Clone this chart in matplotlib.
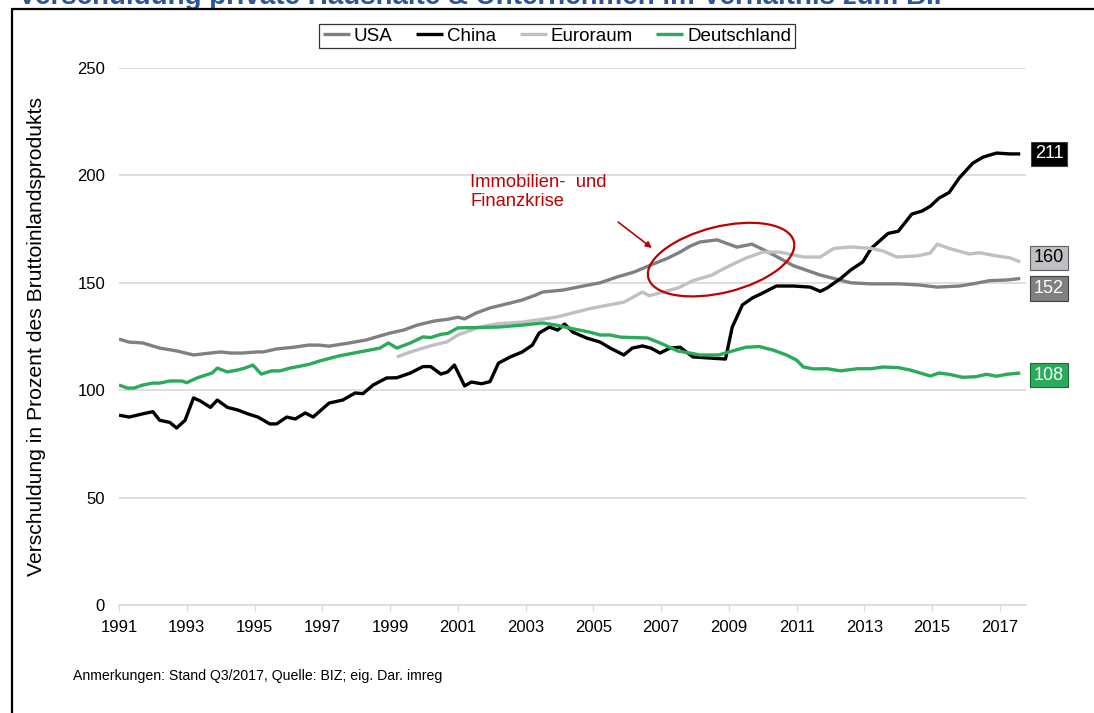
import matplotlib
matplotlib.use("Agg")
import matplotlib.pyplot as plt
from matplotlib.patches import Ellipse, Rectangle
from matplotlib.transforms import ScaledTranslation

plt.rcParams['font.family'] = ['Liberation Sans', 'DejaVu Sans']

# ---------------- data ----------------
usa_t = [1991.0, 1991.3, 1991.7, 1992.2, 1992.7, 1993.2, 1993.7, 1994.0, 1994.3, 1994.65,
         1995.05, 1995.25, 1995.65, 1996.15, 1996.6, 1996.9, 1997.2, 1997.8, 1998.3, 1998.6,
         1999.0, 1999.4, 1999.8, 2000.3, 2000.7, 2001.0, 2001.2, 2001.55, 2001.95, 2002.55,
         2002.9, 2003.3, 2003.5, 2004.1, 2004.7, 2005.2, 2005.7, 2006.2, 2006.7, 2007.2,
         2007.56, 2007.85, 2008.15, 2008.65, 2009.24, 2009.68, 2010.2, 2010.9, 2011.7, 2012.6,
         2013.2, 2014.0, 2014.6, 2015.15, 2015.8, 2016.2, 2016.7, 2017.2, 2017.6]
usa_v = [123.8, 122.4, 122.0, 119.6, 118.3, 116.4, 117.3, 117.8, 117.3, 117.3,
         117.8, 117.8, 119.2, 120.0, 121.0, 121.0, 120.5, 122.0, 123.4, 124.8,
         126.6, 128.0, 130.3, 132.2, 133.0, 134.0, 133.2, 136.0, 138.3, 140.6,
         142.0, 144.3, 145.7, 146.6, 148.5, 150.0, 152.7, 155.0, 158.3, 161.5,
         164.3, 167.0, 169.0, 170.0, 166.6, 168.0, 164.0, 158.0, 153.6, 150.0,
         149.5, 149.5, 149.0, 148.0, 148.5, 149.5, 151.0, 151.3, 152.0]

china_t = [1991.0, 1991.3, 1991.7, 1992.0, 1992.2, 1992.5, 1992.7, 1992.95, 1993.2, 1993.4,
           1993.7, 1993.9, 1994.2, 1994.5, 1994.8, 1995.1, 1995.45, 1995.65, 1995.95, 1996.2,
           1996.5, 1996.73, 1997.2, 1997.6, 1997.97, 1998.2, 1998.5, 1998.9, 1999.2, 1999.6,
           1999.97, 2000.2, 2000.5, 2000.7, 2000.9, 2001.2, 2001.4, 2001.7, 2001.95, 2002.2,
           2002.55, 2002.9, 2003.2, 2003.4, 2003.7, 2003.95, 2004.15, 2004.4, 2004.8, 2005.2,
           2005.5, 2005.9, 2006.15, 2006.45, 2006.7, 2006.97, 2007.26, 2007.56, 2007.94, 2008.4,
           2008.9, 2009.1, 2009.4, 2009.7, 2009.97, 2010.4, 2010.9, 2011.4, 2011.7, 2011.9,
           2012.3, 2012.6, 2012.95, 2013.2, 2013.7, 2014.0, 2014.4, 2014.7, 2014.95, 2015.2,
           2015.5, 2015.8, 2016.2, 2016.5, 2016.9, 2017.3, 2017.6]
china_v = [88.4, 87.5, 89.0, 90.0, 86.0, 85.0, 82.4, 86.0, 96.4, 95.0,
           92.0, 95.4, 92.0, 90.8, 89.0, 87.5, 84.3, 84.3, 87.5, 86.6,
           89.4, 87.5, 94.0, 95.4, 98.7, 98.4, 102.4, 105.7, 105.8, 108.0,
           111.0, 111.0, 107.5, 108.5, 111.7, 102.0, 103.8, 103.0, 104.0, 112.6,
           115.5, 117.8, 121.0, 126.6, 129.4, 128.0, 130.8, 127.0, 124.3, 122.4,
           119.6, 116.4, 119.6, 120.6, 119.6, 117.3, 119.6, 120.0, 115.5, 115.0,
           114.5, 129.4, 139.7, 143.0, 145.0, 148.5, 148.5, 148.0, 146.0, 147.6,
           152.0, 156.0, 159.7, 166.0, 173.0, 174.0, 182.0, 183.4, 185.7, 189.4,
           192.0, 198.8, 205.7, 208.5, 210.4, 210.0, 210.0]

euro_t = [1999.2, 1999.6, 2000.27, 2000.68, 2001.0, 2001.65, 2002.2, 2002.9, 2003.9, 2004.9,
          2005.9, 2006.45, 2006.65, 2007.5, 2007.94, 2008.5, 2008.9, 2009.5, 2010.0, 2010.5,
          2011.2, 2011.7, 2012.1, 2012.6, 2013.2, 2013.55, 2013.96, 2014.55, 2014.94, 2015.15,
          2015.5, 2016.1, 2016.4, 2016.9, 2017.3, 2017.6]
euro_v = [115.5, 117.8, 121.0, 122.5, 125.7, 129.4, 131.0, 131.7, 134.0, 138.0,
          141.0, 145.7, 144.0, 147.6, 151.0, 153.6, 157.0, 161.5, 164.3, 164.3,
          162.0, 162.0, 166.0, 166.7, 166.0, 164.8, 162.0, 162.5, 163.8, 168.0,
          166.0, 163.4, 164.0, 162.5, 161.6, 159.7]

de_t = [1991.0, 1991.25, 1991.45, 1991.7, 1992.0, 1992.2, 1992.5, 1992.85, 1993.0, 1993.3,
        1993.55, 1993.75, 1993.9, 1994.2, 1994.5, 1994.7, 1994.95, 1995.2, 1995.5, 1995.75,
        1996.05, 1996.35, 1996.6, 1996.9, 1997.5, 1998.1, 1998.7, 1998.95, 1999.2, 1999.6,
        1999.97, 2000.2, 2000.5, 2000.7, 2001.0, 2001.65, 2002.2, 2002.9, 2003.5, 2003.9,
        2004.3, 2004.9, 2005.2, 2005.5, 2005.8, 2006.6, 2006.97, 2007.5, 2007.85, 2008.15,
        2008.7, 2009.0, 2009.5, 2009.9, 2010.3, 2010.7, 2011.0, 2011.2, 2011.5, 2011.9,
        2012.3, 2012.8, 2013.2, 2013.55, 2014.0, 2014.35, 2014.65, 2014.95, 2015.2, 2015.5,
        2015.9, 2016.3, 2016.6, 2016.9, 2017.2, 2017.6]
de_v = [102.4, 101.0, 101.0, 102.4, 103.3, 103.3, 104.3, 104.3, 103.5, 105.7,
        107.0, 108.0, 110.3, 108.5, 109.4, 110.2, 111.7, 107.5, 109.0, 109.0,
        110.3, 111.2, 112.0, 113.5, 116.0, 117.8, 119.6, 122.0, 119.6, 122.0,
        124.8, 124.5, 126.0, 126.4, 129.0, 129.2, 129.4, 130.3, 131.3, 130.3,
        128.9, 127.0, 125.7, 125.7, 124.7, 124.3, 122.0, 118.2, 117.3, 116.4,
        116.4, 117.8, 120.0, 120.3, 118.7, 116.4, 114.0, 110.8, 109.9, 110.0,
        109.0, 110.0, 110.0, 110.8, 110.5, 109.4, 108.0, 106.6, 108.0, 107.4,
        106.0, 106.3, 107.4, 106.5, 107.4, 108.0]

series_names = ["USA", "China", "Euroraum", "Deutschland"]
end_labels = ["152", "211", "160", "108"]
x_ticks = list(range(1991, 2018, 2))
y_ticks = [0, 50, 100, 150, 200, 250]

title = "Verschuldung private Haushalte & Unternehmen im Verhältnis zum BIP"
ylabel = "Verschuldung in Prozent des Bruttoinlandsprodukts"
note = "Anmerkungen: Stand Q3/2017, Quelle: BIZ; eig. Dar. imreg"
crisis_text = "Immobilien-  und\nFinanzkrise"

# ---------------- style ----------------
colors = ["#808080", "#000000", "#bfc0c4", "#2aaa5a"]
label_text_colors = ["white", "white", "black", "white"]
label_edge = ["#404040", "#404040", "#606060", "#1a6a38"]
label_offsets_px = [-10, 0, 4, -2]
red = "#c00000"
grid_c = "#d9d9d9"

W, H = 1094, 713
fig = plt.figure(figsize=(W / 100, H / 100), dpi=100)
ax = fig.add_axes([119 / W, 1 - 605 / H, (1026 - 119) / W, (605 - 68) / H])

data = [(usa_t, usa_v), (china_t, china_v), (euro_t, euro_v), (de_t, de_v)]
order = [2, 0, 3, 1]
lines = {}
for i in order:
    t, v = data[i]
    ln, = ax.plot(t, v, color=colors[i], lw=2.4, solid_joinstyle='round',
                  solid_capstyle='butt', label=series_names[i], zorder=3 + i * 0.1)
    lines[i] = ln

ax.set_xlim(1991, 2017.77)
ax.set_ylim(0, 250)
ax.set_xticks(x_ticks)
ax.set_xticklabels([str(x) for x in x_ticks])
ax.set_yticks(y_ticks)
ax.tick_params(axis='y', length=0, pad=10, labelsize=12)
ax.tick_params(axis='x', length=4, width=1, color=grid_c, direction='out', pad=7, labelsize=12)
for s in ['top', 'right', 'left']:
    ax.spines[s].set_visible(False)
ax.spines['bottom'].set_color(grid_c)
ax.spines['bottom'].set_linewidth(1.2)
ax.grid(axis='y', color=grid_c, lw=1.2)
ax.set_axisbelow(True)
ax.set_ylabel(ylabel, fontsize=15.2)
ax.yaxis.set_label_coords(-0.080, 0.5)

# legend
handles = [lines[i] for i in range(4)]
leg = fig.legend(handles, series_names, loc='center', bbox_to_anchor=(557 / W, 1 - 36 / H),
                 ncol=4, fontsize=13.5, frameon=True, fancybox=False, handlelength=1.45,
                 handletextpad=0.2, columnspacing=1.25, borderpad=0.2, edgecolor='black')
leg.get_frame().set_linewidth(0.9)

# end labels
for i in range(4):
    t, v = data[i]
    ax.annotate(end_labels[i], xy=(2018.45, v[-1]), xytext=(0, label_offsets_px[i] * 0.72),
                textcoords='offset points', ha='center', va='center', fontsize=13,
                color=label_text_colors[i], annotation_clip=False,
                bbox=dict(boxstyle='square,pad=0.2', fc=colors[i], ec=label_edge[i], lw=0.8))

# crisis annotation
ax.text(2001.36, 200.5, crisis_text, color=red, fontsize=13.2, ha='left', va='top',
        linespacing=1.15)
ax.annotate("", xy=(2006.73, 166.2), xytext=(2005.73, 178.3),
            arrowprops=dict(arrowstyle='-|>', color=red, lw=1.2, mutation_scale=9,
                            shrinkA=0, shrinkB=0))
ell_tr = fig.dpi_scale_trans + ScaledTranslation(2008.77, 160.8, ax.transData)
ell = Ellipse((0, 0), 1.50, 0.66, angle=14, transform=ell_tr, fill=False,
              ec=red, lw=1.6, zorder=6)
ax.add_patch(ell)

# frame, title, note
fig.patches.append(Rectangle((12 / W, -0.05), 1.2, 1 - 9 / H + 0.05, transform=fig.transFigure,
                             fill=False, ec='black', lw=1.6, zorder=10))
fig.text(18 / W, 1 - 4.5 / H, title, fontsize=20, fontweight='bold', color='#2f5597',
         ha='left', va='baseline')
fig.text(73 / W, 1 - 676 / H, note, fontsize=10.2, ha='left', va='center')

fig.savefig("out.png", dpi=100)
